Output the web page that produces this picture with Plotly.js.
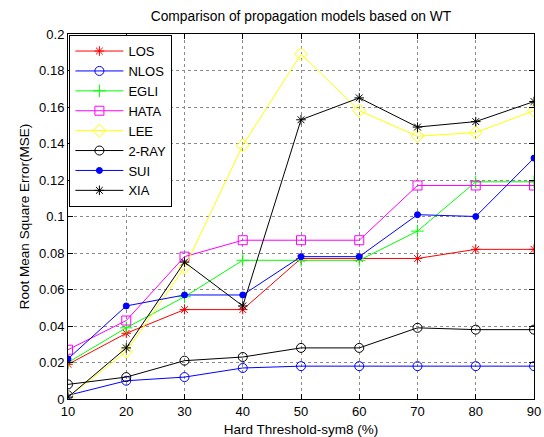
<!DOCTYPE html>
<html>
<head>
<meta charset="utf-8">
<script src="https://cdn.plot.ly/plotly-3.0.1.min.js"></script>
<style>html,body{margin:0;padding:0;background:#fff;}#chart{width:544px;height:437px;}</style>
</head>
<body>
<div id="chart"></div>
<script>
var thresholds = [10, 20, 30, 40, 50, 60, 70, 80, 90];
var LOS   = [0.019, 0.036, 0.049, 0.049, 0.077, 0.077, 0.077, 0.082, 0.082];
var NLOS  = [0.002, 0.010, 0.012, 0.017, 0.018, 0.018, 0.018, 0.018, 0.018];
var EGLI  = [0.020, 0.039, 0.056, 0.076, 0.076, 0.076, 0.092, 0.119, 0.119];
var HATA  = [0.027, 0.043, 0.078, 0.087, 0.087, 0.087, 0.117, 0.117, 0.117];
var LEE   = [0.001, 0.026, 0.072, 0.139, 0.189, 0.158, 0.144, 0.146, 0.158];
var TWORAY= [0.008, 0.012, 0.021, 0.023, 0.028, 0.028, 0.039, 0.038, 0.038];
var SUI   = [0.022, 0.051, 0.057, 0.057, 0.078, 0.078, 0.101, 0.100, 0.132];
var XIA   = [0.001, 0.028, 0.075, 0.051, 0.153, 0.165, 0.149, 0.152, 0.163];
var seriesNames = ["LOS", "NLOS", "EGLI", "HATA", "LEE", "2-RAY", "SUI", "XIA"];
var xTicks = [10, 20, 30, 40, 50, 60, 70, 80, 90];
var yTicks = [0, 0.02, 0.04, 0.06, 0.08, 0.1, 0.12, 0.14, 0.16, 0.18, 0.2];
var yTickText = ["0", "0.02", "0.04", "0.06", "0.08", "0.1", "0.12", "0.14", "0.16", "0.18", "0.2"];

var values = [LOS, NLOS, EGLI, HATA, LEE, TWORAY, SUI, XIA];
var colors = ["#ff0000", "#0000ff", "#00ff00", "#ff00ff", "#ffff00", "#000000", "#0000ff", "#000000"];
var symbols = ["asterisk-open", "circle-open", "cross-thin-open", "square-open", "diamond-open", "circle-open", "circle", "asterisk-open"];
var sizes = [8, 9, 9, 9, 10, 9, 6, 8];

var traces = values.map(function (v, i) {
  return {
    x: thresholds, y: v, name: seriesNames[i], type: "scatter", mode: "lines+markers",
    line: {color: colors[i], width: 1},
    marker: {symbol: symbols[i], size: sizes[i], color: colors[i], line: {color: colors[i], width: 1}}
  };
});

var FONT = "Liberation Sans, Arial, sans-serif";
var axisCommon = {
  showline: true, linecolor: "#000", linewidth: 1, mirror: "ticks",
  ticks: "inside", ticklen: 5, tickcolor: "#000",
  showgrid: true, gridcolor: "#8a8a8a", griddash: "dot", gridwidth: 1,
  zeroline: false, tickfont: {family: FONT, size: 13, color: "#000"}
};

var layout = {
  width: 544, height: 437,
  margin: {l: 68, r: 10, t: 34, b: 38},
  paper_bgcolor: "#fff", plot_bgcolor: "#fff",
  title: {text: "Comparison of propagation models based on WT", x: 0.5, xref: "paper", xanchor: "center", y: 0.962, yanchor: "middle",
          font: {family: FONT, size: 13.8, color: "#000"}},
  xaxis: Object.assign({}, axisCommon, {range: [10, 90], tickvals: xTicks,
          title: {text: "Hard Threshold-sym8 (%)", standoff: 6, font: {family: FONT, size: 13.5, color: "#000"}}}),
  yaxis: Object.assign({}, axisCommon, {range: [0, 0.2], tickvals: yTicks, ticktext: yTickText,
          title: {text: "Root Mean Square Error(MSE)", standoff: 6, font: {family: FONT, size: 13.5, color: "#000"}}}),
  showlegend: true,
  legend: {x: 0.003, y: 0.997, xanchor: "left", yanchor: "top", bgcolor: "#fff", bordercolor: "#000", borderwidth: 1,
           font: {family: FONT, size: 13, color: "#000"}, itemwidth: 48, tracegroupgap: 0}
};

Plotly.newPlot("chart", traces, layout, {displayModeBar: false, staticPlot: true});
</script>
</body>
</html>
